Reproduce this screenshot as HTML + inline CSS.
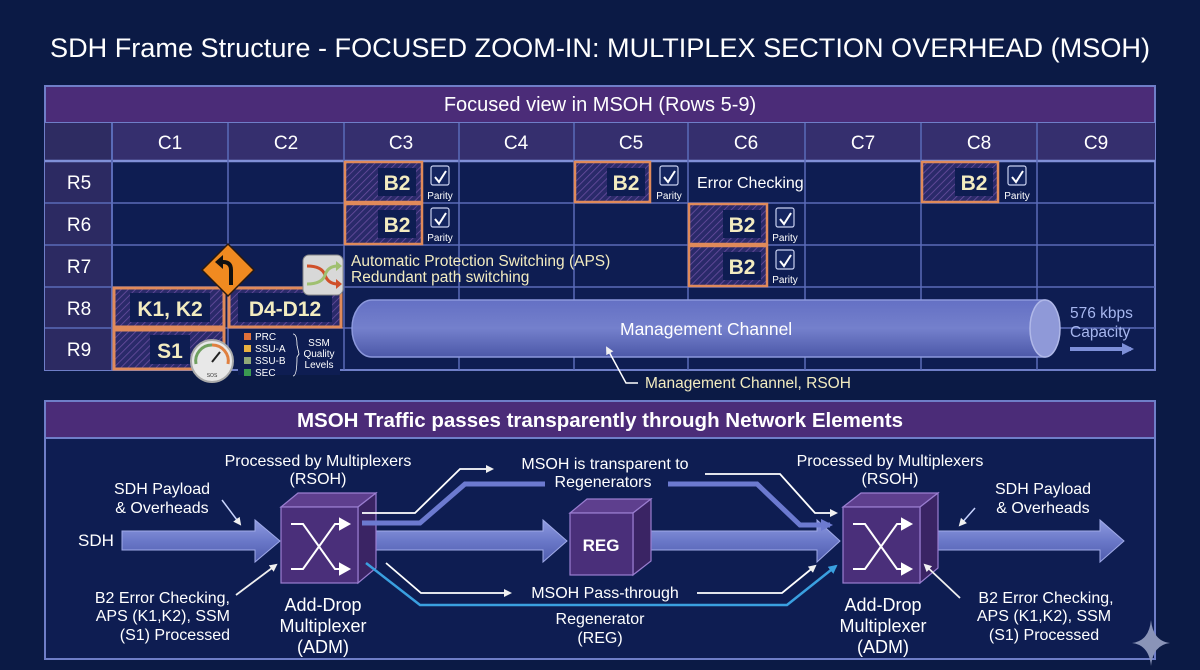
<!DOCTYPE html>
<html><head><meta charset="utf-8"><style>
html,body{margin:0;padding:0;background:#0b1a45;}
svg{display:block;font-family:"Liberation Sans",sans-serif;}
</style></head><body>
<svg width="1200" height="670" viewBox="0 0 1200 670" xmlns="http://www.w3.org/2000/svg">
<defs>
<pattern id="hatch" width="5" height="5" patternUnits="userSpaceOnUse" patternTransform="rotate(45)">
<rect width="5" height="5" fill="#2a2a6a"/><line x1="0" y1="0" x2="0" y2="5" stroke="#6a4fa0" stroke-width="1.6"/>
</pattern>
<linearGradient id="arr" x1="0" y1="0" x2="0" y2="1">
<stop offset="0" stop-color="#8e9ae0"/><stop offset="0.5" stop-color="#6a78c8"/><stop offset="1" stop-color="#4f5cae"/>
</linearGradient>
<linearGradient id="cyl" x1="0" y1="0" x2="0" y2="1">
<stop offset="0" stop-color="#6470c4"/><stop offset="0.5" stop-color="#7480cc"/><stop offset="1" stop-color="#4c58a8"/>
</linearGradient>
<marker id="ah" markerWidth="8" markerHeight="8" refX="6" refY="4" orient="auto" markerUnits="userSpaceOnUse"><path d="M0,0 L8,4 L0,8 z" fill="#f0f0f0"/></marker>
<marker id="ahb" markerWidth="12" markerHeight="12" refX="9" refY="6" orient="auto" markerUnits="userSpaceOnUse"><path d="M0,0 L12,6 L0,12 z" fill="#6c7ad0"/></marker>
<marker id="ahc" markerWidth="9" markerHeight="9" refX="7" refY="4.5" orient="auto" markerUnits="userSpaceOnUse"><path d="M0,0 L9,4.5 L0,9 z" fill="#3aa0e0"/></marker>
<marker id="ahcap" markerWidth="12" markerHeight="12" refX="9" refY="6" orient="auto" markerUnits="userSpaceOnUse"><path d="M0,0 L12,6 L0,12 z" fill="#7d8fd8"/></marker>
</defs>
<rect width="1200" height="670" fill="#0b1a45"/>
<text x="600" y="57" text-anchor="middle" fill="#ffffff" font-size="27" textLength="1100" lengthAdjust="spacingAndGlyphs">SDH Frame Structure - FOCUSED ZOOM-IN: MULTIPLEX SECTION OVERHEAD (MSOH)</text>

<!-- TOP PANEL -->
<rect x="45" y="86" width="1110" height="284" fill="#0e1d52" stroke="#6f7ec8" stroke-width="2"/>
<rect x="45" y="86" width="1110" height="37" fill="#4b2c78" stroke="#6f7ec8" stroke-width="2"/>
<text x="600" y="111" text-anchor="middle" fill="#fff" font-size="20">Focused view in MSOH (Rows 5-9)</text>
<rect x="45" y="123" width="1110" height="38" fill="#352f6e"/>
<rect x="45" y="123" width="67" height="38" fill="#2e2c62"/>
<rect x="45" y="161" width="67" height="209" fill="#2c2a62"/>
<g stroke="#5a6bb8" stroke-width="1.5">
<line x1="45" y1="161" x2="1155" y2="161" stroke="#8090d8" stroke-width="2.5"/>
<line x1="45" y1="203" x2="1155" y2="203"/><line x1="45" y1="245" x2="1155" y2="245"/>
<line x1="45" y1="287" x2="1155" y2="287"/><line x1="45" y1="328" x2="1155" y2="328"/>
<line x1="112" y1="123" x2="112" y2="370" stroke-width="2"/><line x1="228" y1="123" x2="228" y2="370"/>
<line x1="344" y1="123" x2="344" y2="370"/><line x1="459" y1="123" x2="459" y2="370"/>
<line x1="574" y1="123" x2="574" y2="370"/><line x1="688" y1="123" x2="688" y2="370"/>
<line x1="805" y1="123" x2="805" y2="370"/><line x1="921" y1="123" x2="921" y2="370"/>
<line x1="1037" y1="123" x2="1037" y2="370"/>
</g>
<g fill="#fff" font-size="19" text-anchor="middle">
<text x="170" y="149">C1</text><text x="286" y="149">C2</text><text x="401" y="149">C3</text><text x="516" y="149">C4</text>
<text x="631" y="149">C5</text><text x="746" y="149">C6</text><text x="863" y="149">C7</text><text x="979" y="149">C8</text><text x="1096" y="149">C9</text>
<text x="79" y="189">R5</text><text x="79" y="231">R6</text><text x="79" y="273">R7</text><text x="79" y="315">R8</text><text x="79" y="356">R9</text>
</g>

<!-- B2 boxes -->
<g font-size="21" font-weight="bold" fill="#f3ecc0" text-anchor="middle">
<g><rect x="345" y="162" width="77" height="40" fill="url(#hatch)" stroke="#e08a5a" stroke-width="2.5"/><rect x="378" y="168" width="38" height="28" fill="#0e1d52"/><text x="397" y="190">B2</text></g>
<g><rect x="345" y="204" width="77" height="40" fill="url(#hatch)" stroke="#e08a5a" stroke-width="2.5"/><rect x="378" y="210" width="38" height="28" fill="#0e1d52"/><text x="397" y="232">B2</text></g>
<g><rect x="575" y="162" width="75" height="40" fill="url(#hatch)" stroke="#e08a5a" stroke-width="2.5"/><rect x="607" y="168" width="38" height="28" fill="#0e1d52"/><text x="626" y="190">B2</text></g>
<g><rect x="689" y="204" width="78" height="40" fill="url(#hatch)" stroke="#e08a5a" stroke-width="2.5"/><rect x="723" y="210" width="38" height="28" fill="#0e1d52"/><text x="742" y="232">B2</text></g>
<g><rect x="689" y="246" width="78" height="40" fill="url(#hatch)" stroke="#e08a5a" stroke-width="2.5"/><rect x="723" y="252" width="38" height="28" fill="#0e1d52"/><text x="742" y="274">B2</text></g>
<g><rect x="922" y="162" width="76" height="40" fill="url(#hatch)" stroke="#e08a5a" stroke-width="2.5"/><rect x="955" y="168" width="38" height="28" fill="#0e1d52"/><text x="974" y="190">B2</text></g>
</g>
<!-- parity icons -->
<g id="par">
<rect x="431" y="166" width="18" height="19" rx="2" fill="#152660" stroke="#c8d0f0" stroke-width="1.2"/>
<path d="M435,177 L439,182 L446,171" stroke="#fff" stroke-width="2" fill="none"/>
<text x="440" y="199" font-size="10" fill="#fff" text-anchor="middle">Parity</text>
</g>
<use href="#par" x="0" y="42"/>
<use href="#par" x="229" y="0"/>
<use href="#par" x="345" y="42"/>
<use href="#par" x="345" y="84"/>
<use href="#par" x="577" y="0"/>
<text x="697" y="188" font-size="16" fill="#fff">Error Checking</text>

<!-- K1,K2 / D4-D12 / S1 -->
<g font-size="21" font-weight="bold" fill="#f3ecc0" text-anchor="middle">
<rect x="114" y="288" width="110" height="39" fill="url(#hatch)" stroke="#e08a5a" stroke-width="3"/>
<rect x="130" y="293" width="80" height="29" fill="#0e1d52"/><text x="170" y="316">K1, K2</text>
<rect x="229" y="288" width="112" height="39" fill="url(#hatch)" stroke="#e08a5a" stroke-width="3"/>
<rect x="238" y="293" width="94" height="29" fill="#0e1d52"/><text x="285" y="316">D4-D12</text>
<rect x="114" y="330" width="110" height="39" fill="url(#hatch)" stroke="#e08a5a" stroke-width="3"/>
<rect x="150" y="335" width="40" height="29" fill="#0e1d52"/><text x="170" y="358">S1</text>
</g>
<!-- road sign -->
<path d="M228,244 L254,270 L228,296 L202,270 Z" fill="#f08a20" stroke="#2a1a10" stroke-width="1.5"/>
<path d="M231,285 L231,270 Q231,262 223,262 L221,262" stroke="#111" stroke-width="4" fill="none"/>
<path d="M215,262 L223,255 L223,269 Z" fill="#111"/>
<!-- shuffle icon -->
<rect x="303" y="255" width="40" height="40" rx="6" fill="#d8d8d8" stroke="#888"/>
<path d="M307,266 Q322,266 325,275 Q328,284 338,284" stroke="#d0502a" stroke-width="3" fill="none"/>
<path d="M307,284 Q322,284 325,275 Q328,266 338,266" stroke="#a0c070" stroke-width="3" fill="none"/>
<path d="M336,261 L342,266 L336,271 Z" fill="#a0c070"/><path d="M336,279 L342,284 L336,289 Z" fill="#d0502a"/>
<text x="351" y="266" font-size="15.5" fill="#f3ecc0">Automatic Protection Switching (APS)</text>
<text x="351" y="282" font-size="15.5" fill="#f3ecc0">Redundant path switching</text>

<!-- SSM legend -->
<rect x="238" y="330" width="102" height="45" fill="#0e1d52"/>
<g font-size="10" fill="#fff">
<rect x="244" y="333" width="7" height="7" fill="#e0703a"/><text x="255" y="340">PRC</text>
<rect x="244" y="345" width="7" height="7" fill="#e8b040"/><text x="255" y="352">SSU-A</text>
<rect x="244" y="357" width="7" height="7" fill="#90a878"/><text x="255" y="364">SSU-B</text>
<rect x="244" y="369" width="7" height="7" fill="#3a9a50"/><text x="255" y="376">SEC</text>
<path d="M293,334 Q297,334 297,345 L299,354 L297,357 Q297,376 293,376" stroke="#fff" fill="none" stroke-width="0.8"/>
<text x="319" y="346" text-anchor="middle">SSM</text><text x="319" y="357" text-anchor="middle">Quality</text><text x="319" y="368" text-anchor="middle">Levels</text>
</g>
<!-- gauge -->
<circle cx="212" cy="361" r="21" fill="#e8e8e8" stroke="#aaa" stroke-width="2"/>
<path d="M196,364 A16,16 0 0 1 212,345" stroke="#70a060" stroke-width="3" fill="none"/>
<path d="M212,345 A16,16 0 0 1 228,364" stroke="#e08040" stroke-width="3" fill="none"/>
<line x1="212" y1="362" x2="220" y2="352" stroke="#222" stroke-width="2"/>
<text x="212" y="377" font-size="5" text-anchor="middle" fill="#333">SOS</text>

<!-- management channel cylinder -->
<path d="M372,300 L1045,300 L1045,357 L372,357 A20,28.5 0 0 1 372,300 Z" fill="url(#cyl)" stroke="#8c98dc" stroke-width="1.5"/>
<ellipse cx="1045" cy="328.5" rx="15" ry="28.5" fill="#8f99d8" stroke="#b0b8e8" stroke-width="1.5"/>
<text x="620" y="335" font-size="17.5" fill="#fff">Management Channel</text>
<text x="1070" y="318" font-size="15.5" fill="#a6b6ee">576 kbps</text>
<text x="1070" y="337" font-size="15.5" fill="#a6b6ee">Capacity</text>
<line x1="1070" y1="349" x2="1131" y2="349" stroke="#7d8fd8" stroke-width="4" marker-end="url(#ahcap)"/>
<path d="M638,383 L626,383 L607,348" stroke="#fff" stroke-width="1.5" fill="none" marker-end="url(#ah)"/>
<text x="645" y="388" font-size="15.5" fill="#f3ecc0">Management Channel, RSOH</text>

<!-- BOTTOM PANEL -->
<rect x="45" y="401" width="1110" height="258" fill="#0e1d52" stroke="#6f7ec8" stroke-width="2"/>
<rect x="45" y="401" width="1110" height="37" fill="#4b2c78" stroke="#6f7ec8" stroke-width="2"/>
<text x="600" y="427" text-anchor="middle" fill="#fff" font-size="20.5" font-weight="bold">MSOH Traffic passes transparently through Network Elements</text>

<!-- big arrows -->
<path d="M122,531 L255,531 L255,520 L280,541 L255,562 L255,550 L122,550 Z" fill="url(#arr)" stroke="#a0aae8"/>
<path d="M366,531 L543,531 L543,520 L567,541 L543,562 L543,550 L366,550 Z" fill="url(#arr)" stroke="#a0aae8"/>
<path d="M643,531 L817,531 L817,520 L840,541 L817,562 L817,550 L643,550 Z" fill="url(#arr)" stroke="#a0aae8"/>
<path d="M926,531 L1100,531 L1100,520 L1124,541 L1100,562 L1100,550 L926,550 Z" fill="url(#arr)" stroke="#a0aae8"/>

<!-- cubes -->
<g stroke="#9a7ed0" stroke-width="1.2">
<path d="M281,507 L298,493 L376,493 L358,507 Z" fill="#5e3f8e"/>
<path d="M358,507 L376,493 L376,568 L358,583 Z" fill="#3a2464"/>
<rect x="281" y="507" width="77" height="76" fill="#4a2f7a"/>
<path d="M570,513 L587,499 L651,499 L633,513 Z" fill="#5e3f8e"/>
<path d="M633,513 L651,499 L651,561 L633,575 Z" fill="#3a2464"/>
<rect x="570" y="513" width="63" height="62" fill="#4a2f7a"/>
<path d="M843,507 L861,493 L938,493 L920,507 Z" fill="#5e3f8e"/>
<path d="M920,507 L938,493 L938,568 L920,583 Z" fill="#3a2464"/>
<rect x="843" y="507" width="77" height="76" fill="#4a2f7a"/>
</g>
<text x="601" y="551" text-anchor="middle" font-size="17" font-weight="bold" fill="#fff">REG</text>
<g id="xsym" stroke="#fff" stroke-width="2" fill="none">
<path d="M291,524 L303,524 L335,569 L343,569"/>
<path d="M291,569 L303,569 L335,524 L343,524"/>
<path d="M340,519 L349,524 L340,529 Z" fill="#fff"/><path d="M340,564 L349,569 L340,574 Z" fill="#fff"/>
</g>
<use href="#xsym" x="562" y="0"/>

<!-- side lines -->
<path d="M366,563 L420,605 L787,605 L836,566" stroke="#3aa0e0" stroke-width="2.5" fill="none" marker-end="url(#ahc)"/>
<path d="M362,523 L420,523 L465,484 L545,484" stroke="#6c7ad0" stroke-width="5" fill="none"/>
<path d="M668,484 L757,484 L800,525 L830,525" stroke="#6c7ad0" stroke-width="5" fill="none" marker-end="url(#ahb)"/>
<path d="M362,513 L415,513 L460,469 L492,469" stroke="#fff" stroke-width="1.8" fill="none" marker-end="url(#ah)"/>
<path d="M705,474 L780,474 L815,513 L836,513" stroke="#fff" stroke-width="1.8" fill="none" marker-end="url(#ah)"/>
<path d="M386,563 L421,593 L510,593" stroke="#fff" stroke-width="1.8" fill="none" marker-end="url(#ah)"/>
<path d="M697,593 L782,593 L815,566" stroke="#fff" stroke-width="1.8" fill="none" marker-end="url(#ah)"/>

<!-- small pointer arrows -->
<path d="M222,500 L240,524" stroke="#c8d4ff" stroke-width="1.5" marker-end="url(#ah)"/>
<path d="M236,595 L276,565" stroke="#f0f0f0" stroke-width="1.8" marker-end="url(#ah)"/>
<path d="M975,508 L960,525" stroke="#c8d4ff" stroke-width="1.5" marker-end="url(#ah)"/>
<path d="M960,598 L925,565" stroke="#f0f0f0" stroke-width="1.8" marker-end="url(#ah)"/>

<!-- labels -->
<g fill="#fff" font-size="16" text-anchor="middle">
<text x="318" y="466">Processed by Multiplexers</text><text x="318" y="484">(RSOH)</text>
<text x="162" y="494">SDH Payload</text><text x="162" y="513">&amp; Overheads</text>
<text x="96" y="546" font-size="17">SDH</text>
<text x="605" y="469">MSOH is transparent to</text><text x="603" y="487">Regenerators</text>
<text x="605" y="598">MSOH Pass-through</text>
<text x="600" y="624">Regenerator</text><text x="600" y="643">(REG)</text>
<text x="890" y="466">Processed by Multiplexers</text><text x="890" y="484">(RSOH)</text>
<text x="1043" y="494">SDH Payload</text><text x="1043" y="513">&amp; Overheads</text>
<text x="323" y="611" font-size="18">Add-Drop</text><text x="323" y="632" font-size="18">Multiplexer</text><text x="323" y="653" font-size="18">(ADM)</text>
<text x="883" y="611" font-size="18">Add-Drop</text><text x="883" y="632" font-size="18">Multiplexer</text><text x="883" y="653" font-size="18">(ADM)</text>
</g>
<g fill="#fff" font-size="16" text-anchor="end">
<text x="230" y="603">B2 Error Checking,</text><text x="230" y="621">APS (K1,K2), SSM</text><text x="230" y="640">(S1) Processed</text>
</g>
<g fill="#fff" font-size="16" text-anchor="middle">
<text x="1046" y="603">B2 Error Checking,</text><text x="1044" y="621">APS (K1,K2), SSM</text><text x="1044" y="640">(S1) Processed</text>
</g>
<path d="M1151,620 Q1153,641 1170,643 Q1153,645 1151,666 Q1149,645 1132,643 Q1149,641 1151,620 Z" fill="#8a94b8"/>
</svg>
</body></html>
